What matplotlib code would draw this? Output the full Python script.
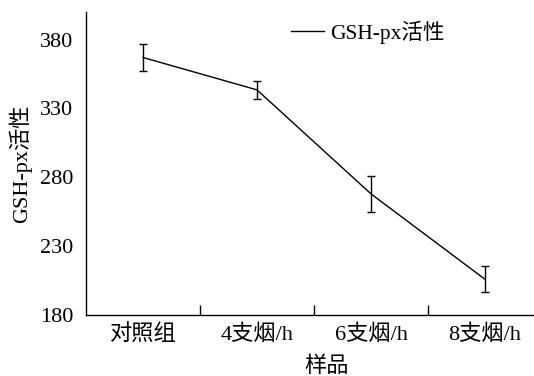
import numpy as np
import matplotlib.pyplot as plt

plt.rcParams['font.family'] = ['Liberation Serif', 'Noto Sans CJK SC']

categories = ["对照组", "4支烟/h", "6支烟/h", "8支烟/h"]
gsh_px = [367, 343.5, 268, 206]
gsh_err = [9.7, 6.3, 12.9, 9.3]
y_ticks = [180, 230, 280, 330, 380]

fig = plt.figure(figsize=(5.34, 3.76), dpi=100)
ax = fig.add_axes([0.161, 0.162, 0.839, 0.806])

x = np.arange(len(categories)) + 0.5
ax.errorbar(x, gsh_px, yerr=gsh_err, color='black', linewidth=1.0,
            elinewidth=1.0, capsize=3, capthick=1.0)
# legend entry: plain line only
ax.plot([], [], color='black', linewidth=1.0, label="GSH-px活性")

ax.set_xlim(0, 3.93)
ax.set_ylim(180, 400)
ax.set_yticks(y_ticks)
ax.set_xticks(x)
ax.set_xticklabels(categories)
ax.set_xticks([1, 2, 3], minor=True)
ax.tick_params(axis='x', which='major', length=0, labelsize=16, pad=7)
ax.tick_params(axis='x', which='minor', direction='in', length=7, width=1)
ax.tick_params(axis='y', length=0, labelsize=16, pad=9)

for s in ['top', 'right']:
    ax.spines[s].set_visible(False)
for s in ['left', 'bottom']:
    ax.spines[s].set_linewidth(1.0)

ax.set_ylabel("GSH-px活性", fontsize=16)
ax.yaxis.set_label_coords(-0.12, 0.5)
ax.set_xlabel("样品", fontsize=16)
ax.xaxis.set_label_coords(0.537, -0.138)

ax.legend(loc='upper left', bbox_to_anchor=(0.415, 1.035), frameon=False,
          fontsize=15.5, handlelength=1.5, handletextpad=0.3)

fig.savefig("out.png", dpi=100)
